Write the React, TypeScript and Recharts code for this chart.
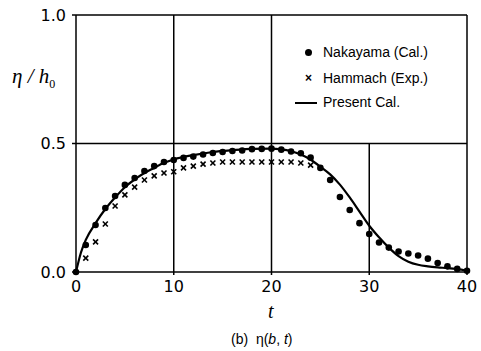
import React from "react";
import {
  ComposedChart,
  Line,
  Scatter,
  XAxis,
  YAxis,
  ReferenceLine,
} from "recharts";

// Nakayama (Cal.) - filled dots
const nakayamaT = [
  0, 1, 2, 3, 4, 5, 6, 7, 8, 9, 10, 11, 12, 13, 14, 15, 16, 17, 18, 19, 20,
  21, 22, 23, 24, 25, 26, 27, 28, 29, 30, 31, 32, 33, 34, 35, 36, 37, 38, 39, 40,
];
const nakayamaEta = [
  0, 0.105, 0.183, 0.249, 0.296, 0.339, 0.366, 0.393, 0.412, 0.428, 0.436,
  0.444, 0.449, 0.457, 0.463, 0.467, 0.471, 0.473, 0.478, 0.479, 0.48, 0.476,
  0.469, 0.462, 0.445, 0.405, 0.358, 0.292, 0.241, 0.19, 0.148, 0.115, 0.095,
  0.08, 0.072, 0.064, 0.052, 0.035, 0.022, 0.012, 0.005,
];

// Hammach (Exp.) - crosses
const hammachT = [
  1, 2, 3, 4, 5, 6, 7, 8, 9, 10, 11, 12, 13, 14, 15, 16, 17, 18, 19, 20, 21,
  22, 23, 24,
];
const hammachEta = [
  0.054, 0.117, 0.187, 0.257, 0.3, 0.33, 0.358, 0.374, 0.385, 0.39, 0.405,
  0.412, 0.42, 0.424, 0.428, 0.428, 0.428, 0.428, 0.428, 0.428, 0.428, 0.428,
  0.424, 0.416,
];

// Present Cal. - solid line
const presentT = [
  0, 0.5, 1, 2, 3, 4, 5, 6, 7, 8, 9, 10, 12, 14, 16, 18, 20, 21, 22, 23, 24,
  25, 26, 27, 28, 29, 30, 31, 32, 33, 34, 35, 36, 37, 38, 39, 40,
];
const presentEta = [
  0, 0.075, 0.125, 0.19, 0.245, 0.29, 0.33, 0.36, 0.385, 0.405, 0.425, 0.438,
  0.455, 0.467, 0.474, 0.479, 0.48, 0.477, 0.47, 0.457, 0.437, 0.41, 0.38,
  0.34, 0.29, 0.235, 0.18, 0.135, 0.095, 0.062, 0.04, 0.028, 0.022, 0.018,
  0.015, 0.011, 0.005,
];

const xTicks = [0, 10, 20, 30, 40];
const yTicks = [0, 0.5, 1.0];

const nakayama = nakayamaT.map((t, i) => ({ t, v: nakayamaEta[i] }));
const hammach = hammachT.map((t, i) => ({ t, v: hammachEta[i] }));
const present = presentT.map((t, i) => ({ t, v: presentEta[i] }));

const Dot = (props: any) => {
  const { cx, cy } = props;
  if (cx == null || cy == null) return null;
  return <circle cx={cx} cy={cy} r={3.3} fill="#000" />;
};

const Cross = (props: any) => {
  const { cx, cy } = props;
  if (cx == null || cy == null) return null;
  const s = 2.5;
  return (
    <g stroke="#000" strokeWidth={1.6}>
      <line x1={cx - s} y1={cy - s} x2={cx + s} y2={cy + s} />
      <line x1={cx - s} y1={cy + s} x2={cx + s} y2={cy - s} />
    </g>
  );
};

const legendFont = "'Liberation Sans', Arial, sans-serif";

const LegendBox = () => (
  <div
    style={{
      position: "absolute",
      left: 294,
      top: 40,
      fontFamily: legendFont,
      fontSize: 14,
      color: "#000",
      lineHeight: "24px",
    }}
  >
    <div style={{ display: "flex", alignItems: "center" }}>
      <span style={{ width: 29, display: "inline-block", position: "relative", height: 24 }}>
        <span style={{ position: "absolute", left: 11, top: 9, width: 7, height: 7, borderRadius: 4, background: "#000" }} />
      </span>
      <span>Nakayama (Cal.)</span>
    </div>
    <div style={{ display: "flex", alignItems: "center", marginTop: 2 }}>
      <span style={{ width: 29, display: "inline-block", textAlign: "center", fontSize: 12, fontWeight: "bold" }}>×</span>
      <span>Hammach (Exp.)</span>
    </div>
    <div style={{ display: "flex", alignItems: "center" }}>
      <span style={{ width: 29, display: "inline-block", position: "relative", height: 24 }}>
        <span style={{ position: "absolute", left: 1, top: 12, width: 22, height: 1.5, background: "#000" }} />
      </span>
      <span>Present Cal.</span>
    </div>
  </div>
);

const tickFont = { fontFamily: "'DejaVu Sans', Verdana, sans-serif", fontSize: 16, fill: "#000" };

export default function App() {
  return (
    <div style={{ position: "absolute", left: 0, top: 0, width: 481, height: 351, background: "#fff" }}>
      <ComposedChart
        width={481}
        height={351}
        margin={{ top: 15, right: 14, bottom: 49, left: 0 }}
      >
        <XAxis
          dataKey="t"
          type="number"
          domain={[0, 40]}
          ticks={xTicks}
          tick={tickFont}
          tickSize={3}
          tickMargin={6}
          height={30}
          stroke="#000"
          strokeWidth={1.5}
          allowDuplicatedCategory={false}
        />
        <YAxis
          dataKey="v"
          type="number"
          domain={[0, 1]}
          ticks={yTicks}
          tickFormatter={(v: number) => v.toFixed(1)}
          tick={tickFont}
          tickSize={4}
          tickMargin={6}
          width={76}
          stroke="#000"
          strokeWidth={1.5}
        />
        <ReferenceLine y={1} stroke="#000" strokeWidth={1.5} />
        <ReferenceLine y={0.5} stroke="#000" strokeWidth={1.5} />
        <ReferenceLine x={10} stroke="#000" strokeWidth={1.5} />
        <ReferenceLine x={20} stroke="#000" strokeWidth={1.5} />
        <ReferenceLine x={40} stroke="#000" strokeWidth={1.5} />
        <ReferenceLine
          segment={[
            { x: 30, y: 0 },
            { x: 30, y: 0.5 },
          ]}
          stroke="#000"
          strokeWidth={1.5}
        />
        <Line
          data={present}
          dataKey="v"
          type="monotone"
          stroke="#000"
          strokeWidth={2.2}
          dot={false}
          isAnimationActive={false}
          legendType="none"
        />
        <Scatter data={hammach} dataKey="v" shape={<Cross />} isAnimationActive={false} />
        <Scatter data={nakayama} dataKey="v" shape={<Dot />} isAnimationActive={false} />
      </ComposedChart>
      <LegendBox />
      <div
        style={{
          position: "absolute",
          left: 12,
          top: 64,
          fontFamily: "'Liberation Serif', 'Times New Roman', serif",
          fontStyle: "italic",
          fontSize: 21,
          color: "#000",
          whiteSpace: "nowrap",
        }}
      >
        η / h<sub style={{ fontSize: 12, fontStyle: "normal" }}>0</sub>
      </div>
      <div
        style={{
          position: "absolute",
          left: 268,
          top: 300,
          fontFamily: "'Liberation Serif', 'Times New Roman', serif",
          fontStyle: "italic",
          fontSize: 20,
          color: "#000",
        }}
      >
        t
      </div>
      <div
        style={{
          position: "absolute",
          left: 231,
          top: 331,
          fontFamily: "'Liberation Sans', Arial, sans-serif",
          fontSize: 14,
          color: "#000",
          whiteSpace: "nowrap",
        }}
      >
        (b)&nbsp;&nbsp;η(<i>b</i>, <i>t</i>)
      </div>
    </div>
  );
}
